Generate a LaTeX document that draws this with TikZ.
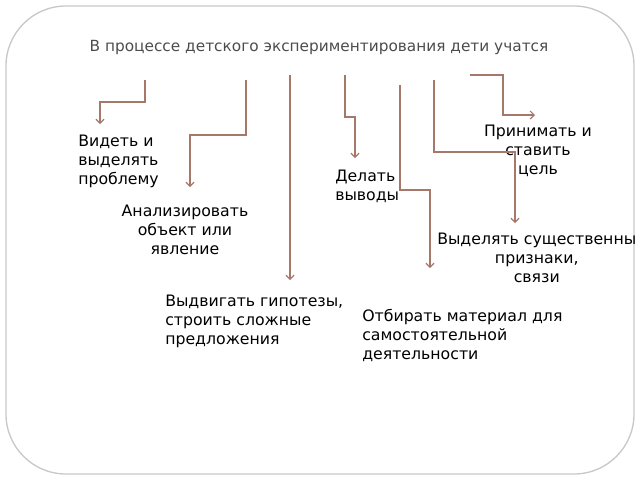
\documentclass[tikz,border=0pt]{standalone}
\usepackage{fontspec}
\setmainfont{DejaVu Sans}
\usetikzlibrary{arrows.meta}
\definecolor{linebrown}{RGB}{165,120,105}
\definecolor{framegray}{RGB}{200,200,200}
\begin{document}
\begin{tikzpicture}[x=0.75pt,y=-0.75pt,
  conn/.style={draw=linebrown, line width=0.9pt, -{Straight Barb[length=3pt,width=6pt]}},
  lbl/.style={font=\fontsize{11.8}{14.3}\selectfont, inner sep=0pt}]
      \useasboundingbox (0,0) rectangle (640,480);
      % Outer frame
      \draw[framegray, line width=1pt, rounded corners=45pt] (6,6) rectangle (634,474);
      % Title
      \node[font=\fontsize{11.5}{13}\selectfont, text=black!70] (title) at (319,47) {В процессе детского экспериментирования дети учатся};

      % Labels
      \node[lbl, align=left, anchor=north west] (see) at (78,135) {Видеть и\\выделять\\проблему};
      \node[lbl, align=center, anchor=north] (analyse) at (185,205) {Анализировать\\объект или\\явление};
      \node[lbl, align=left, anchor=north west] (hypo) at (165,295) {Выдвигать гипотезы,\\строить сложные\\предложения};
      \node[lbl, align=left, anchor=north west] (concl) at (335,170) {Делать\\выводы};
      \node[lbl, align=left, anchor=north west] (select) at (362,309) {Отбирать материал для\\самостоятельной\\деятельности};
      \node[lbl, align=center, anchor=north] (goal) at (538,125) {Принимать и\\ставить\\цель};
      \node[lbl, align=center, anchor=north west] (feat) at (437,233) {Выделять существенны\\признаки,\\связи};

      % Start and end points of the connectors
      \foreach \n/\x/\y in {s1/145/80, e1/100/124, s2/246/80, e2/190/187, s3/290/75, e3/290/280,
                            s4/345/75, e4/355/158, s5/400/85, e5/430/268, s6/434/80, e6/515/223,
                            s7/470/75, e7/535/115} {
          \coordinate (\n) at (\x,\y);
      }

      % Connectors
      \draw[conn] (s1) |- (122,102) -| (e1);
      \draw[conn] (s2) |- (218,135) -| (e2);
      \draw[conn] (s3) -- (e3);
      \draw[conn] (s4) |- (350,117) -| (e4);
      \draw[conn] (s5) |- (415,190) -| (e5);
      \draw[conn] (s6) |- (475,152) -| (e6);
      \draw[conn] (s7) -| (503,95) |- (e7);

\end{tikzpicture}
\end{document}
